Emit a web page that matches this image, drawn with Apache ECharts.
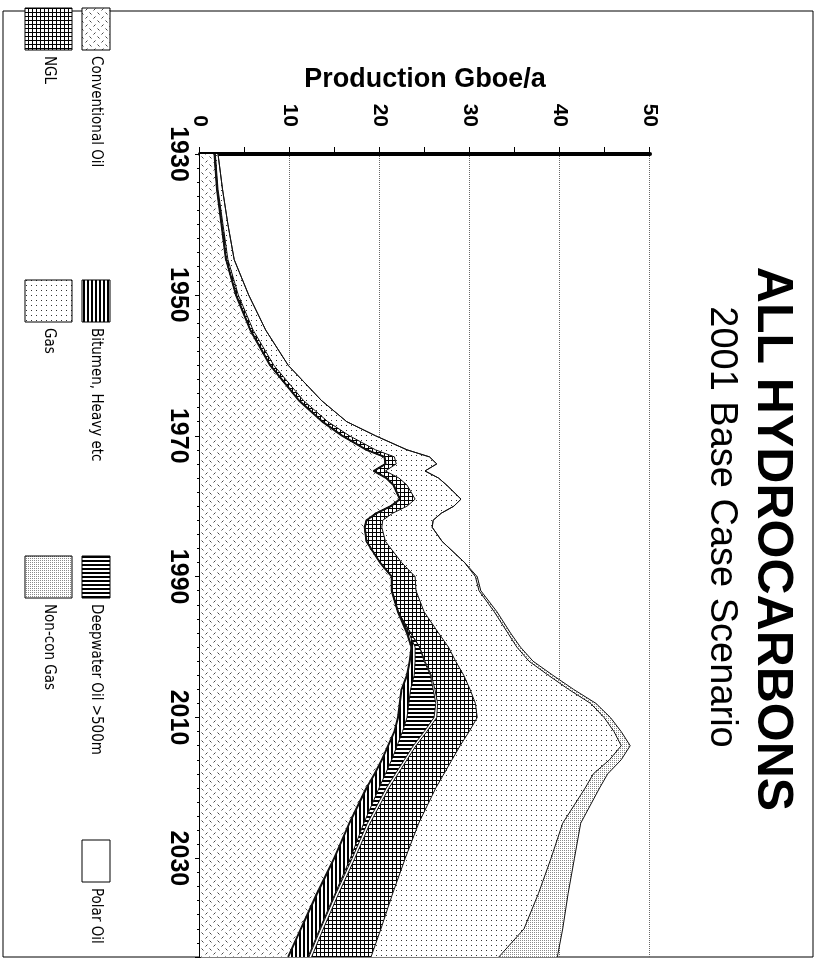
<!DOCTYPE html>
<html>
<head>
<meta charset="utf-8">
<title>All Hydrocarbons - 2001 Base Case Scenario</title>
<script src="https://cdn.jsdelivr.net/npm/echarts@6/dist/echarts.min.js"></script>
<style>
  html, body { margin: 0; padding: 0; background: #fff; overflow: hidden; }
  /* the scan is turned a quarter turn clockwise, so the chart is drawn upright and rotated */
  #chart {
    position: absolute; left: 0; top: 0;
    width: 961px; height: 817px;
    transform-origin: 0 0;
    transform: translate(817px, 0) rotate(90deg);
  }
</style>
</head>
<body>
<div id="chart"></div>
<script>
// production, Gboe per year
const years = [1930, 1935, 1940, 1945, 1950, 1955, 1960, 1965, 1968, 1970,
               1972, 1973, 1974, 1975, 1976, 1977, 1979, 1980, 1981, 1982,
               1983, 1985, 1988, 1990, 1992, 1995, 1998, 2000, 2002, 2004,
               2006, 2008, 2010, 2012, 2014, 2016, 2018, 2020, 2025, 2030,
               2035, 2040, 2044];

const conventionalOil = [1.6, 1.9, 2.4, 2.9, 4.0, 5.6, 7.8, 11.0, 13.6, 15.8,
                         18.5, 20.5, 20.6, 19.3, 20.7, 21.5, 22.2, 21.2, 19.6, 18.5,
                         18.3, 18.5, 20.0, 21.3, 21.3, 22.0, 23.0, 23.5, 23.3, 23.0,
                         22.4, 22.2, 22.0, 21.6, 20.9, 20.2, 19.4, 18.5, 16.6, 14.9,
                         13.0, 11.2, 9.8];

const bitumenHeavy = [0, 0, 0, 0, 0, 0, 0, 0, 0, 0,
                      0, 0, 0, 0, 0, 0, 0, 0, 0, 0,
                      0, 0, 0, 0, 0, 0, 0.2, 0.4, 0.6, 0.8,
                      1.0, 1.0, 1.0, 0.9, 1.0, 1.1, 1.2, 1.4, 1.6, 1.8,
                      2.0, 2.1, 2.2];

const deepwaterOil = [0, 0, 0, 0, 0, 0, 0, 0, 0, 0,
                      0, 0, 0, 0, 0, 0, 0, 0, 0, 0,
                      0, 0, 0, 0, 0, 0, 0.2, 0.5, 1.0, 1.8,
                      2.5, 3.0, 3.0, 2.4, 1.8, 1.4, 1.1, 0.8, 0.4, 0.2,
                      0.1, 0.1, 0.1];

const polarOil = [0, 0, 0, 0, 0, 0, 0, 0, 0, 0,
                  0, 0, 0, 0, 0, 0, 0, 0, 0, 0,
                  0, 0, 0, 0, 0, 0, 0, 0, 0.1, 0.1,
                  0.2, 0.2, 0.3, 0.3, 0.3, 0.3, 0.3, 0.3, 0.3, 0.3,
                  0.3, 0.3, 0.3];

const ngl = [0.1, 0.1, 0.15, 0.2, 0.25, 0.3, 0.4, 0.5, 0.6, 0.8,
             1.0, 1.1, 1.2, 1.3, 1.4, 1.5, 1.7, 1.8, 1.8, 1.8,
             1.9, 2.1, 2.4, 2.6, 2.7, 2.9, 3.1, 3.2, 3.4, 3.6,
             3.9, 4.2, 4.5, 4.7, 4.9, 5.0, 5.1, 5.2, 5.4, 5.6,
             6.0, 6.4, 6.6];

const gas = [0.3, 0.5, 0.55, 0.7, 1.15, 1.4, 1.6, 2.0, 2.1, 2.9,
             3.5, 3.9, 4.5, 4.4, 4.4, 4.4, 5.1, 5.2, 5.4, 5.6,
             5.6, 6.3, 7.0, 6.7, 7.0, 7.8, 7.7, 7.6, 8.15, 9.4,
             10.95, 12.8, 14.1, 16.1, 17.9, 17.5, 16.6, 16.6, 16.0, 16.2,
             16.2, 15.9, 14.2];

const nonConGas = [0, 0, 0, 0, 0, 0, 0, 0, 0, 0,
                   0, 0, 0, 0, 0, 0, 0, 0, 0, 0,
                   0, 0, 0, 0.2, 0.2, 0.3, 0.3, 0.4, 0.45, 0.5,
                   0.55, 0.6, 0.7, 0.8, 1.0, 1.3, 1.6, 1.6, 2.0, 2.6,
                   3.3, 4.3, 6.5];

// fill patterns, black and white like the print
function tile(size, draw) {
    const c = document.createElement('canvas');
    c.width = c.height = size;
    const g = c.getContext('2d');
    g.fillStyle = '#fff';
    g.fillRect(0, 0, size, size);
    draw(g);
    return { image: c, repeat: 'repeat' };
}

const fills = {
    conv: tile(8, g => {
        g.strokeStyle = '#444';
        g.lineWidth = 1;
        g.beginPath();
        g.moveTo(0.5, 1.5); g.lineTo(2.5, 3.5);
        g.moveTo(4.5, 7.5); g.lineTo(6.5, 5.5);
        g.stroke();
    }),
    bitumen: tile(4, g => { g.fillStyle = '#000'; g.fillRect(0, 0, 4, 2); }),
    deep: tile(4, g => { g.fillStyle = '#000'; g.fillRect(0, 0, 2, 4); }),
    polar: tile(4, () => {}),
    ngl: tile(4, g => { g.fillStyle = '#000'; g.fillRect(0, 0, 4, 1); g.fillRect(0, 0, 1, 4); }),
    gas: tile(5, g => { g.fillStyle = '#333'; g.fillRect(0, 0, 1, 1); }),
    noncon: tile(2, g => { g.fillStyle = '#8a8a8a'; g.fillRect(0, 0, 1, 1); })
};

// stack order from the axis outwards
const layers = [
    { name: 'Conventional Oil', data: conventionalOil, fill: fills.conv, width: 2 },
    { name: 'Bitumen, Heavy etc', data: bitumenHeavy, fill: fills.bitumen, width: 1 },
    { name: 'Deepwater Oil >500m', data: deepwaterOil, fill: fills.deep, width: 1 },
    { name: 'Polar Oil', data: polarOil, fill: fills.polar, width: 1 },
    { name: 'NGL', data: ngl, fill: fills.ngl, width: 1 },
    { name: 'Gas', data: gas, fill: fills.gas, width: 1 },
    { name: 'Non-con Gas', data: nonConGas, fill: fills.noncon, width: 1 }
];

let running = years.map(() => 0);
const series = layers.map(l => {
    running = running.map((v, i) => v + l.data[i]);
    return {
        name: l.name,
        type: 'line',
        symbol: 'none',
        data: running.map((v, i) => [years[i], +v.toFixed(2)]),
        lineStyle: { color: '#111', width: l.width },
        areaStyle: { color: l.fill, opacity: 1 },
        silent: true
    };
}).reverse(); // outermost first, inner layers painted over it

const FONT = '"Liberation Sans", Arial, sans-serif';
const NARROW = '"Liberation Sans Narrow", "DejaVu Sans Condensed", sans-serif';

const legendItems = [
    { name: 'Conventional Oil', fill: fills.conv, x: 8, row: 0 },
    { name: 'Bitumen, Heavy etc', fill: fills.bitumen, x: 280, row: 0 },
    { name: 'Deepwater Oil >500m', fill: fills.deep, x: 556, row: 0 },
    { name: 'Polar Oil', fill: fills.polar, x: 840, row: 0 },
    { name: 'NGL', fill: fills.ngl, x: 8, row: 1 },
    { name: 'Gas', fill: fills.gas, x: 280, row: 1 },
    { name: 'Non-con Gas', fill: fills.noncon, x: 556, row: 1 }
];
const rows = [{ y: 707, h: 28 }, { y: 745, h: 47 }];

const graphic = [
    { type: 'rect', shape: { x: 11, y: 4, width: 946, height: 810 },
      style: { fill: 'none', stroke: '#000', lineWidth: 1 }, silent: true },
    { type: 'text', x: 539, y: 20,
      style: { text: 'ALL HYDROCARBONS', font: 'bold 50px ' + FONT, fill: '#000',
               textAlign: 'center', textVerticalAlign: 'top' } },
    { type: 'text', x: 527, y: 77,
      style: { text: '2001 Base Case Scenario', font: '38px ' + FONT, fill: '#000',
               textAlign: 'center', textVerticalAlign: 'top' } }
];
legendItems.forEach(it => {
    const r = rows[it.row];
    graphic.push({ type: 'rect', shape: { x: it.x, y: r.y, width: 42, height: r.h },
                   style: { fill: it.fill, stroke: '#000', lineWidth: 1 } });
    graphic.push({ type: 'text', x: it.x + 48, y: r.y + r.h / 2,
                   style: { text: it.name, font: '15px ' + NARROW, fill: '#000',
                            textAlign: 'left', textVerticalAlign: 'middle' } });
});

const chart = echarts.init(document.getElementById('chart'), null, { width: 961, height: 817 });
chart.setOption({
    animation: false,
    backgroundColor: '#fff',
    grid: { left: 154, right: 4, top: 167, bottom: 200 },
    xAxis: {
        type: 'value',
        min: 1930,
        max: 2044,
        interval: 20,
        axisLine: { lineStyle: { color: '#000', width: 2 } },
        axisTick: { show: true, length: 5, lineStyle: { color: '#000' } },
        minorTick: { show: true, splitNumber: 10, length: 3, lineStyle: { color: '#000' } },
        splitLine: { show: false },
        axisLabel: {
            showMaxLabel: false,
            margin: 10,
            color: '#000',
            fontFamily: FONT,
            fontSize: 25,
            fontWeight: 'bold',
            formatter: v => String(v)
        }
    },
    yAxis: {
        type: 'value',
        min: 0,
        max: 50,
        interval: 10,
        name: 'Production Gboe/a',
        nameLocation: 'middle',
        nameRotate: 90,
        nameGap: 40,
        nameTextStyle: { color: '#000', fontFamily: FONT, fontSize: 27, fontWeight: 'bold' },
        axisLine: { show: true, lineStyle: { color: '#000', width: 4 } },
        axisTick: { show: true, length: 7, lineStyle: { color: '#000' } },
        minorTick: { show: true, splitNumber: 2, length: 7, lineStyle: { color: '#000' } },
        splitLine: { show: true, lineStyle: { color: '#666', type: 'dotted', width: 1 } },
        axisLabel: { margin: 27, color: '#000', fontFamily: FONT, fontSize: 21, fontWeight: 'bold' }
    },
    graphic: graphic,
    series: series
});
</script>
</body>
</html>
